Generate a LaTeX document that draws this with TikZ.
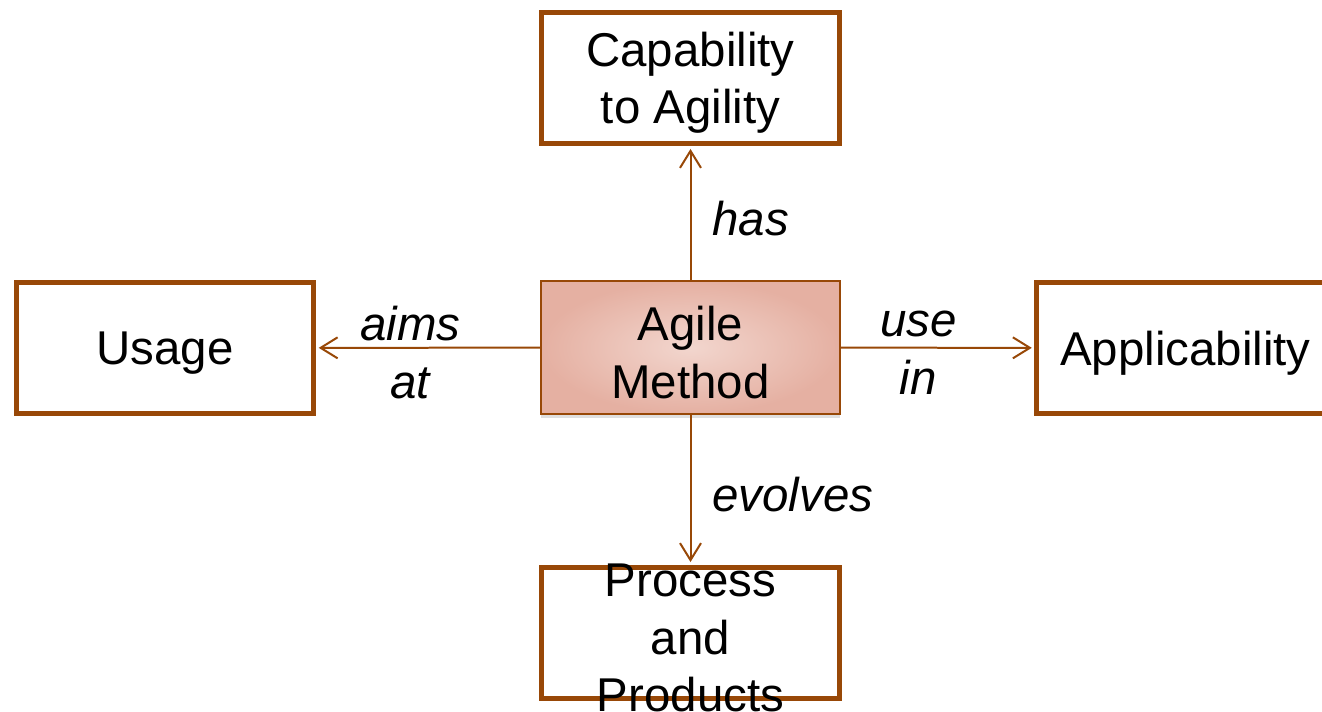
\documentclass[tikz,border=0pt]{standalone}
\usepackage{fontspec}
\setmainfont{Liberation Sans}
\usetikzlibrary{arrows.meta,positioning,shadows}

\newcommand{\agfont}{\fontsize{27}{32.7}\selectfont}

\begin{document}
\begin{tikzpicture}[x=0.02cm, y=0.02cm,
        boxtext/.style={font=\agfont, align=center, yshift=-0.1cm},
        conceptbox/.style={draw=agbrown, line width=0.1cm, minimum width=5.95cm, minimum height=2.64cm, label={[boxtext]center:#1}},
        agilebox/.style={draw=agbrown, line width=0.04cm, inner color=agpinklight, outer color=agpink, drop shadow={opacity=0.25, shadow xshift=0cm, shadow yshift=-0.08cm}, minimum width=5.98cm, minimum height=2.66cm, label={[boxtext]center:#1}},
        rel/.style={draw=agbrown, line width=0.04cm, shorten >=0.05cm, -{Straight Barb[length=0.34cm, width=0.42cm]}},
        relname/.style={font=\agfont\itshape, align=center, yshift=-0.1cm}]
        \definecolor{agbrown}{RGB}{152,72,7}
        \definecolor{agpink}{RGB}{229,176,162}
        \definecolor{agpinklight}{RGB}{242,214,206}

        \useasboundingbox (0,0) rectangle (1322,711);
        \clip (0,0) rectangle (1322,711);

        % Centre - Agile Method
        \node[agilebox={Agile\\Method}] (agile) at (690.5,363.5) {};

        % Top - Capability to Agility
        \node[conceptbox={Capability\\to Agility}] (cap) at (690.5,633) {};

        % Left - Usage
        \node[conceptbox={Usage}] (usage) at (165,363) {};

        % Right - Applicability (runs off the page)
        \node[conceptbox={Applicability}] (appl) at (1185.5,363) {};

        % Bottom - Process and Products (text spills over the box)
        \node[conceptbox={Process\\and\\Products}] (proc) at (690.5,78) {};

        % Relations
        \draw[rel] (agile) -- (cap) node[relname, midway, right=0.3cm] {has};
        \draw[rel] (agile) -- (usage) node[relname, pos=0.58] {aims\\at};
        \draw[rel] (agile) -- (appl) node[relname, pos=0.4] {use\\in};
        \draw[rel] (agile) -- (proc) node[relname, midway, right=0.3cm] {evolves};
    \end{tikzpicture}
\end{document}
